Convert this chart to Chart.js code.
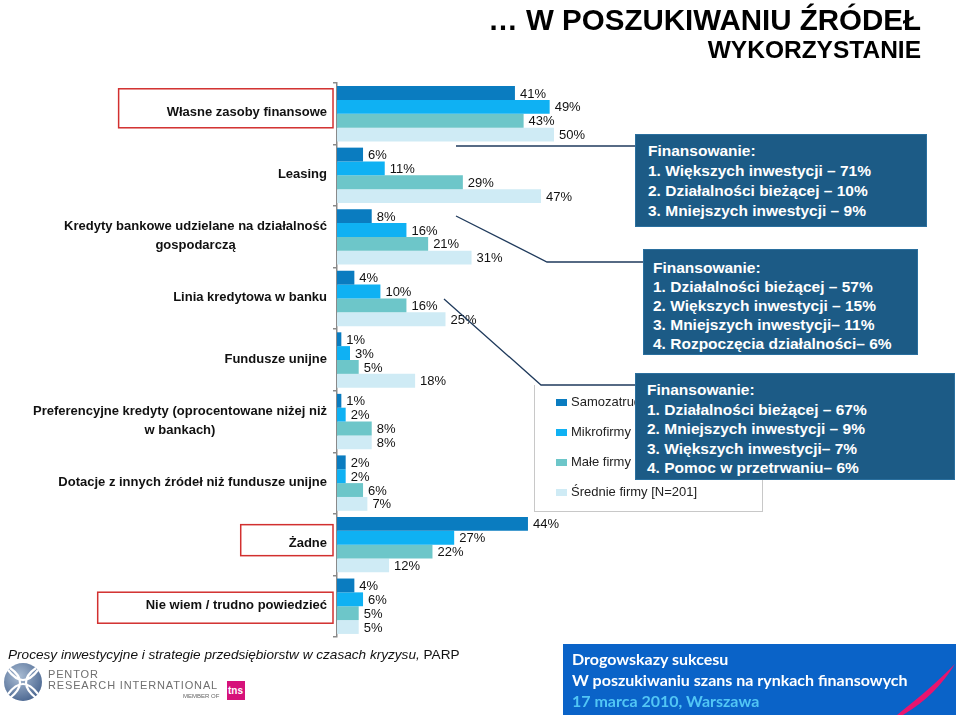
<!DOCTYPE html>
<html lang="pl">
<head>
<meta charset="utf-8">
<script src="https://cdn.jsdelivr.net/npm/chart.js@4.4.1/dist/chart.umd.min.js"></script>
<style>
  body { margin: 0; width: 960px; height: 716px; position: relative; overflow: hidden; background: #fff; font-family: Arial, "Liberation Sans", sans-serif; }
  #chart { position: absolute; left: 0; top: 0; }
  .abs { position: absolute; }
  .title1 { right: 39px; top: 2px; font-size: 29.5px; font-weight: bold; color: #000; white-space: nowrap; line-height: 36px; }
  .title2 { right: 39px; top: 35px; font-size: 24.5px; font-weight: bold; color: #000; line-height: 30px; }
  .legend { left: 534px; top: 385px; width: 227px; height: 126px; border: 1px solid #c8c8c8; border-top: none; font-size: 13px; color: #222; }
  .legend div { position: absolute; left: 36px; white-space: nowrap; }
  .legend span { position: absolute; left: -15px; top: 5px; width: 11px; height: 7px; }
  .box { background: #1c5b86; color: #fff; font-size: 15.5px; font-weight: bold; white-space: nowrap; box-sizing: border-box; border: 1px solid #2a6f9e; }
  .src { left: 8px; top: 647px; font-size: 13.6px; font-style: italic; color: #111; white-space: nowrap; }
  .footer { left: 563px; top: 644px; width: 393px; height: 71px; background: #0a63c8; font-family: Lato, "Open Sans", sans-serif; font-weight: bold; font-size: 16px; color: #fff; box-sizing: border-box; padding: 4px 0 0 9px; line-height: 21px; overflow: hidden; }
  .pentor { font-size: 11px; color: #6f6f6f; letter-spacing: 0.85px; white-space: nowrap; }
</style>
</head>
<body>
<canvas id="chart" width="960" height="716"></canvas>

<svg class="abs" style="left:0;top:0" width="960" height="716">
  <polyline points="456,146 636,146" fill="none" stroke="#1f3a5c" stroke-width="1.3"/>
  <polyline points="456,216 547,262 644,262" fill="none" stroke="#1f3a5c" stroke-width="1.3"/>
  <polyline points="444,299 541,385 636,385" fill="none" stroke="#1f3a5c" stroke-width="1.3"/>
</svg>

<div class="abs title1">… W POSZUKIWANIU ŹRÓDEŁ</div>
<div class="abs title2">WYKORZYSTANIE</div>

<div class="abs legend" id="legend"></div>

<div class="abs box" style="left:635px;top:134px;width:292px;height:93px;padding:6px 0 0 12px;line-height:20px;">
  Finansowanie:<br>1. Większych inwestycji – 71%<br>2. Działalności bieżącej – 10%<br>3. Mniejszych inwestycji – 9%
</div>
<div class="abs box" style="left:643px;top:249px;width:275px;height:106px;padding:8px 0 0 9px;line-height:19px;">
  Finansowanie:<br>1. Działalności bieżącej – 57%<br>2. Większych inwestycji – 15%<br>3. Mniejszych inwestycji– 11%<br>4. Rozpoczęcia działalności– 6%
</div>
<div class="abs box" style="left:635px;top:373px;width:320px;height:107px;padding:6px 0 0 11px;line-height:19.5px;">
  Finansowanie:<br>1. Działalności bieżącej – 67%<br>2. Mniejszych inwestycji – 9%<br>3. Większych inwestycji– 7%<br>4. Pomoc w przetrwaniu– 6%
</div>

<div class="abs src">Procesy inwestycyjne i strategie przedsiębiorstw w czasach kryzysu, <span style="font-style:normal">PARP</span></div>

<svg class="abs" style="left:0;top:660px" width="260" height="56">
  <defs>
    <radialGradient id="g" cx="40%" cy="35%" r="70%">
      <stop offset="0" stop-color="#a9bcd3"/><stop offset="1" stop-color="#4a6690"/>
    </radialGradient>
  </defs>
  <circle cx="23" cy="22" r="19" fill="url(#g)"/>
  <path d="M8 10 Q23 30 38 10 M8 34 Q23 14 38 34 M10 8 Q30 22 10 38 M36 8 Q16 22 36 38" fill="none" stroke="#fff" stroke-width="2.2"/>
  <rect x="227" y="21" width="18" height="19" fill="#d6127a"/>
  <text x="228" y="34" font-size="10" font-weight="bold" fill="#fff" font-family="Arial">tns</text>
</svg>
<div class="abs pentor" style="left:48px;top:668px;">PENTOR</div>
<div class="abs pentor" style="left:48px;top:679px;">RESEARCH INTERNATIONAL</div>
<div class="abs" style="left:183px;top:693px;font-size:6px;color:#666;">MEMBER OF</div>

<div class="abs footer">
  Drogowskazy sukcesu<br>W poszukiwaniu szans na rynkach finansowych<br><span style="color:#52c6f5">17 marca 2010, Warszawa</span>
  <svg class="abs" style="left:330px;top:18px" width="63" height="53">
    <path d="M62 2 Q40 24 20 40 Q10 48 4 53 L10 53 Q28 42 40 30 Q52 18 62 2 Z" fill="#e8156e"/>
  </svg>
</div>

<script>
// === Data ===
const categories = [
  'Własne zasoby finansowe',
  'Leasing',
  ['Kredyty bankowe udzielane na działalność', 'gospodarczą'],
  'Linia kredytowa w banku',
  'Fundusze unijne',
  ['Preferencyjne kredyty (oprocentowane niżej niż', 'w bankach)'],
  'Dotacje z innych źródeł niż fundusze unijne',
  'Żadne',
  'Nie wiem / trudno powiedzieć'
];
const seriesNames = ['Samozatrudnieni', 'Mikrofirmy', 'Małe firmy', 'Średnie firmy [N=201]'];
const samozatrudnieni = [41, 6, 8, 4, 1, 1, 2, 44, 4];
const mikrofirmy      = [49, 11, 16, 10, 3, 2, 2, 27, 6];
const maleFirmy       = [43, 29, 21, 16, 5, 8, 6, 22, 5];
const srednieFirmy    = [50, 47, 31, 25, 18, 8, 7, 12, 5];
const boxedCategories = [0, 7, 8];

const colors = ['#0a7cc0', '#0fb1f3', '#6dc6c9', '#cfebf5'];
const FONT = 'Arial, "Liberation Sans", sans-serif';

// === HTML legend ===
const legendEl = document.getElementById('legend');
seriesNames.forEach((n, i) => {
  legendEl.innerHTML += `<div style="top:${9 + i * 30}px"><span style="background:${colors[i]}"></span>${n}</div>`;
});

// === Value labels at bar ends ===
const valueLabels = {
  id: 'valueLabels',
  afterDatasetsDraw(chart) {
    const { ctx } = chart;
    ctx.save();
    ctx.font = '13px ' + FONT;
    ctx.fillStyle = '#111';
    ctx.textBaseline = 'middle';
    chart.data.datasets.forEach((ds, i) => {
      chart.getDatasetMeta(i).data.forEach((bar, j) => {
        ctx.fillText(ds.data[j] + '%', bar.x + 5, bar.y + 1);
      });
    });
    ctx.restore();
  }
};

// === Category labels (centred lines) + red frames ===
const categoryLabels = {
  id: 'categoryLabels',
  afterDraw(chart) {
    const { ctx } = chart;
    const ys = chart.scales.y;
    const frames = { 0: [-24, 15], 7: [-19, 12], 8: [-13, 18] };
    ctx.save();
    ctx.font = 'bold 13px ' + FONT;
    ctx.fillStyle = '#111';
    ctx.textAlign = 'center';
    ctx.textBaseline = 'middle';
    categories.forEach((lab, i) => {
      const lines = [].concat(lab);
      const w = Math.max(...lines.map(l => ctx.measureText(l).width));
      const cx = ys.right - 10 - w / 2;
      const cy = ys.getPixelForTick(i) - 1;
      lines.forEach((l, k) => ctx.fillText(l, cx, cy + (k - (lines.length - 1) / 2) * 19));
      if (boxedCategories.includes(i)) {
        const [t, b] = frames[i];
        ctx.strokeStyle = '#d2302f';
        ctx.lineWidth = 1.5;
        const left = cx - w / 2 - 48;
        ctx.strokeRect(left, cy + t, 333 - left, b - t);
      }
    });
    ctx.restore();
  }
};

// === Chart ===
new Chart(document.getElementById('chart').getContext('2d'), {
  type: 'bar',
  data: {
    labels: categories,
    datasets: [samozatrudnieni, mikrofirmy, maleFirmy, srednieFirmy].map((d, i) => ({
      label: seriesNames[i],
      data: d,
      backgroundColor: colors[i],
      borderWidth: 0,
      categoryPercentage: 0.9,
      barPercentage: 1.0
    }))
  },
  options: {
    indexAxis: 'y',
    responsive: false,
    animation: false,
    layout: { padding: { top: 83, bottom: 79, left: 0, right: 189 } },
    scales: {
      x: { display: false, min: 0, max: 100 },
      y: {
        afterFit: s => { s.width = 337; },
        border: { display: true, color: '#8a8a8a', width: 1.5 },
        grid: { display: true, drawOnChartArea: false, drawTicks: true, tickLength: 4, offset: true, color: '#8a8a8a', lineWidth: 1.5 },
        ticks: { display: false }
      }
    },
    plugins: {
      legend: { display: false },
      tooltip: { enabled: false }
    }
  },
  plugins: [valueLabels, categoryLabels]
});
</script>
</body>
</html>
